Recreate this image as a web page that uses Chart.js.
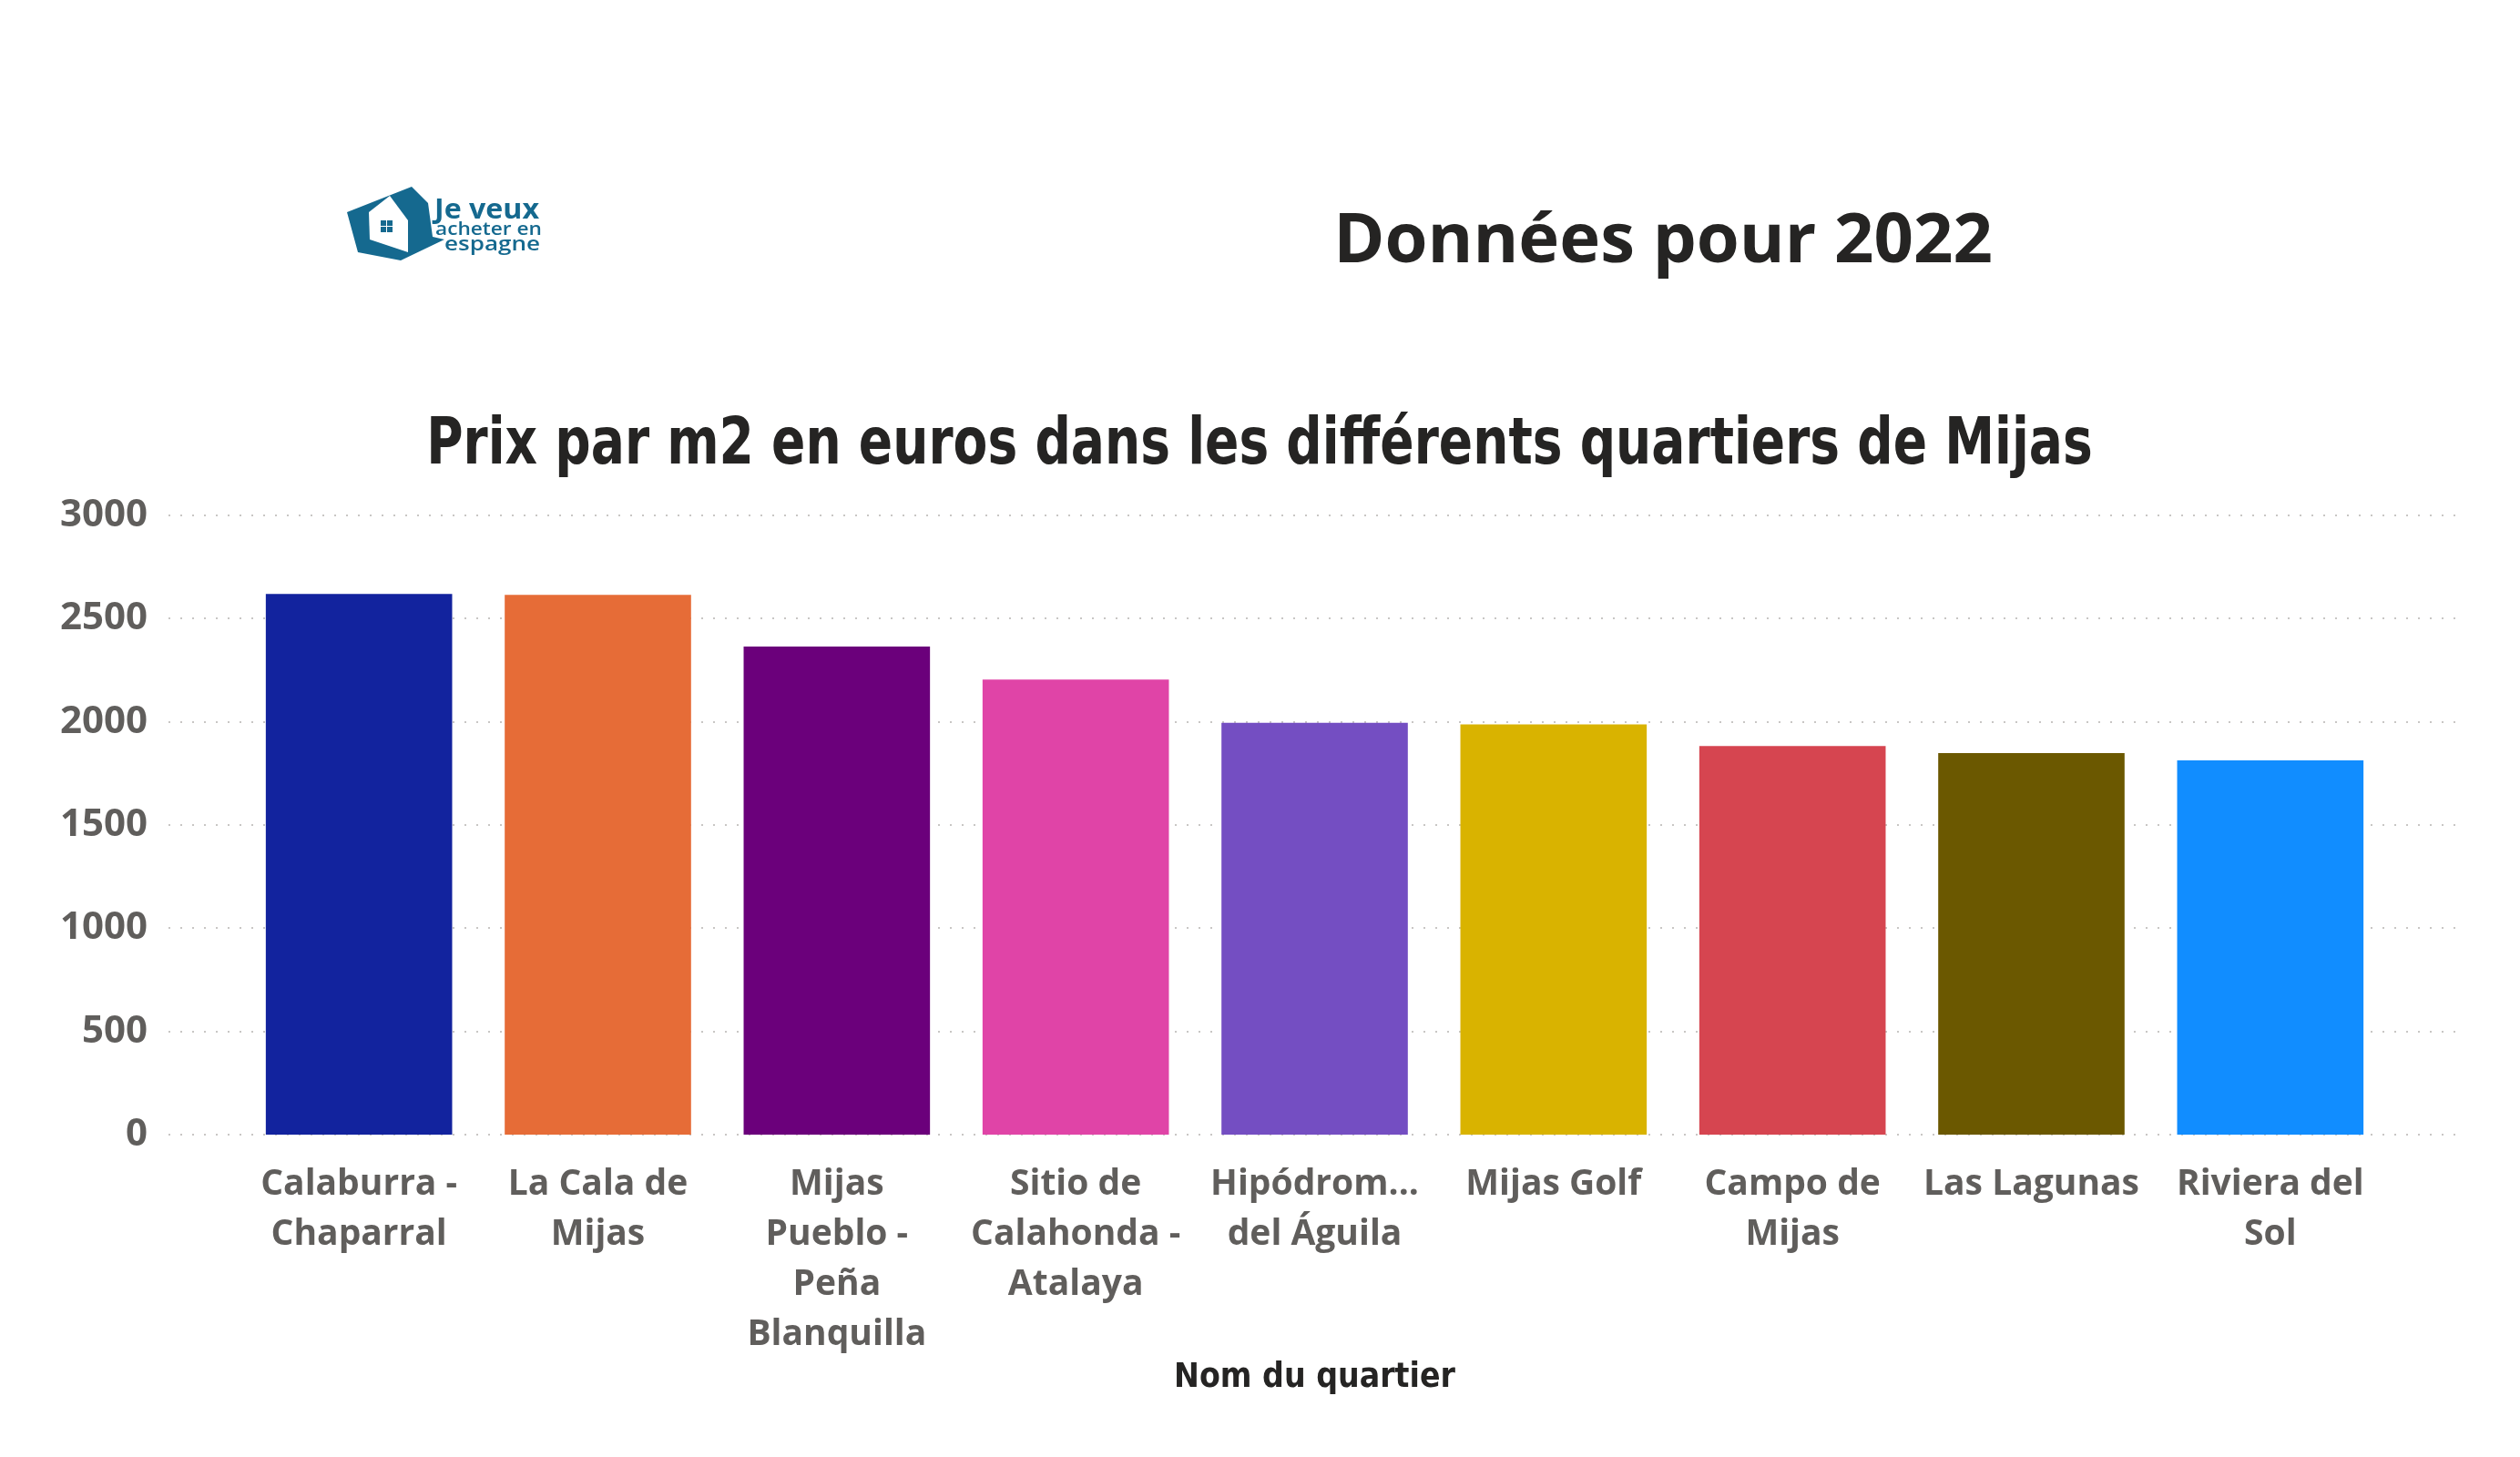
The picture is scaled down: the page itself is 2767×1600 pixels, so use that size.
<!DOCTYPE html>
<html lang="fr">
<head>
<meta charset="utf-8">
<title>Prix par m2 à Mijas</title>
<script src="https://cdn.jsdelivr.net/npm/chart.js@4.4.0/dist/chart.umd.min.js"></script>
<style>
  html, body { margin: 0; padding: 0; background: #ffffff; }
  body { width: 2767px; height: 1600px; position: relative; overflow: hidden; }
  #chart { position: absolute; left: 0; top: 0; }
  #logo { position: absolute; left: 360px; top: 180px; }
  #year {
    position: absolute; left: 1826px; top: 259px;
    transform: translate(-50%, -50%);
    font-family: "Open Sans", sans-serif; font-weight: 700; font-size: 76px;
    color: #252423; line-height: 1; white-space: nowrap;
  }
  #title {
    position: absolute; left: 1383px; top: 484px;
    transform: translate(-50%, -50%);
    font-family: "DejaVu Sans", sans-serif; font-weight: 700; font-size: 72px;
    color: #252423; line-height: 1; white-space: nowrap;
  }
</style>
</head>
<body>
<canvas id="chart" width="2767" height="1600"></canvas>

<!-- logo "Je veux acheter en espagne" -->
<svg id="logo" width="260" height="120" viewBox="0 0 260 120">
  <polygon points="21,53 92,25 110,43 115,80 128,83 80,106 33,97" fill="#15698f"/>
  <polygon points="68,35 45,53 46,83 88,97 88,62" fill="#ffffff"/>
  <rect x="58" y="62" width="6" height="6" fill="#15698f"/>
  <rect x="65" y="62" width="6" height="6" fill="#15698f"/>
  <rect x="58" y="69" width="6" height="6" fill="#15698f"/>
  <rect x="65" y="69" width="6" height="6" fill="#15698f"/>
  <text x="117" y="60" font-family="Open Sans, sans-serif" font-weight="700" font-size="30" fill="#15698f" textLength="115" lengthAdjust="spacingAndGlyphs">Je veux</text>
  <text x="118" y="78" font-family="Open Sans, sans-serif" font-weight="600" font-size="20" fill="#15698f" textLength="117" lengthAdjust="spacingAndGlyphs">acheter en</text>
  <text x="128" y="95" font-family="Open Sans, sans-serif" font-weight="600" font-size="21" fill="#15698f" textLength="105" lengthAdjust="spacingAndGlyphs">espagne</text>
</svg>

<div id="year">Données pour 2022</div>
<div id="title">Prix par m2 en euros dans les différents quartiers de Mijas</div>

<script>
// Prix par m2 - quartiers de Mijas (2022)

const quartiers = [
  ["Calaburra -", "Chaparral"],
  ["La Cala de", "Mijas"],
  ["Mijas", "Pueblo -", "Peña", "Blanquilla"],
  ["Sitio de", "Calahonda -", "Atalaya"],
  ["Hipódrom...", "del Águila"],
  ["Mijas Golf"],
  ["Campo de", "Mijas"],
  ["Las Lagunas"],
  ["Riviera del", "Sol"]
];

const prixM2 = [2620, 2615, 2365, 2205, 1995, 1988, 1883, 1849, 1813];

const barColors = [
  "#12239e", "#e66c37", "#6b007b", "#e044a7", "#744ec2",
  "#d9b300", "#d64550", "#6b5800", "#118dff"
];

const yTicks = [0, 500, 1000, 1500, 2000, 2500, 3000];

// title font is condensed in the original (DIN), squeeze it to the same width
const titleEl = document.getElementById("title");
titleEl.style.transform = "translate(-50%, -50%) scaleX(" + (1830 / titleEl.offsetWidth).toFixed(3) + ")";

// dotted horizontal grid, wider than the category area (as in Power BI)
const dottedGrid = {
  id: "dottedGrid",
  beforeDatasetsDraw(chart) {
    const { ctx, scales: { y } } = chart;
    ctx.save();
    ctx.strokeStyle = "#c8c6c4";
    ctx.lineWidth = 2;
    ctx.setLineDash([2, 11]);
    yTicks.forEach(v => {
      const py = Math.round(y.getPixelForValue(v));
      ctx.beginPath();
      ctx.moveTo(185, py);
      ctx.lineTo(2700, py);
      ctx.stroke();
    });
    ctx.restore();
  }
};

const ctx = document.getElementById("chart").getContext("2d");
new Chart(ctx, {
  type: "bar",
  data: {
    labels: quartiers,
    datasets: [{
      label: "Prix par m2",
      data: prixM2,
      backgroundColor: barColors,
      borderWidth: 0,
      categoryPercentage: 1,
      barPercentage: 0.78
    }]
  },
  options: {
    responsive: false,
    animation: false,
    devicePixelRatio: 1,
    layout: { padding: { left: 0, right: 143, top: 566, bottom: 0 } },
    plugins: {
      legend: { display: false },
      tooltip: { enabled: false },
      title: { display: false }
    },
    scales: {
      y: {
        min: 0,
        max: 3000,
        afterFit: scale => { scale.width = 263; },
        afterBuildTicks: scale => { scale.ticks = yTicks.map(v => ({ value: v })); },
        grid: { display: false, drawTicks: false },
        border: { display: false },
        ticks: {
          padding: 101,
          color: "#605e5c",
          font: { family: "'Open Sans', sans-serif", weight: "bold", size: 42 },
          callback: v => String(v)
        }
      },
      x: {
        afterFit: scale => { scale.height = 354; },
        grid: { display: false, drawTicks: false },
        border: { display: false },
        ticks: {
          padding: 27,
          maxRotation: 0,
          autoSkip: false,
          color: "#605e5c",
          font: { family: "'Open Sans', sans-serif", weight: "bold", size: 39, lineHeight: 1.41 }
        },
        title: {
          display: true,
          text: "Nom du quartier",
          color: "#252423",
          font: { family: "'DejaVu Sans Condensed', 'DejaVu Sans', sans-serif", weight: "bold", size: 37, lineHeight: 1.1 },
          padding: { top: 0, bottom: 66 }
        }
      }
    }
  },
  plugins: [dottedGrid]
});
</script>
</body>
</html>
